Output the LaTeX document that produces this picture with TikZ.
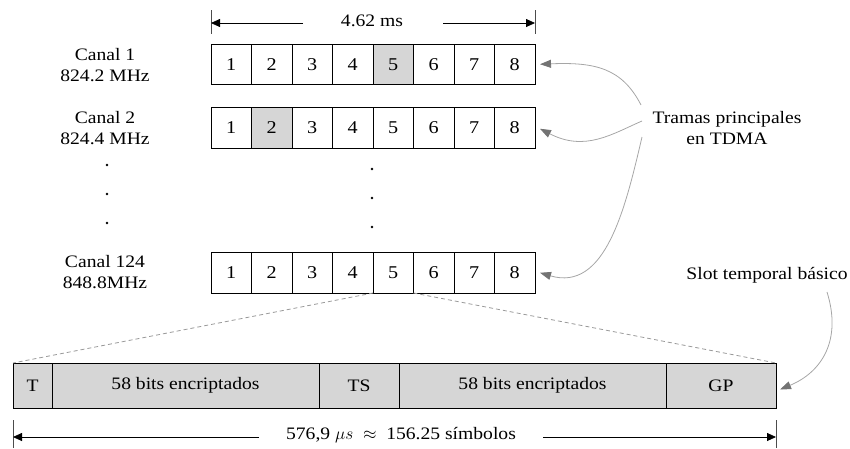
\documentclass[tikz,border=0pt]{standalone}
\usepackage{fontspec}
\setmainfont[FakeStretch=1.12]{Liberation Serif}
\usetikzlibrary{arrows.meta}
\begin{document}
\begin{tikzpicture}[x=1pt,y=-1pt,
  txt/.style={font=\fontsize{17.5}{20.5}\selectfont, align=center, inner sep=0pt},
  cell/.style={draw, line width=0.8pt, minimum width=40.5pt, minimum height=40.5pt, inner sep=0pt, outer sep=0pt, anchor=north west, font=\fontsize{18}{20}\selectfont},
  shaded/.style={fill=black!16},
  slot/.style={draw, line width=0.8pt, fill=black!16, minimum height=45pt, inner sep=0pt, outer sep=0pt, anchor=north west, font=\fontsize{17.5}{20}\selectfont},
  dot/.style={circle, fill=black, inner sep=0pt, minimum size=2.6pt},
  dim/.style={line width=0.8pt, -{Triangle[length=9pt,width=8pt]}},
  tick/.style={line width=0.8pt, black!70},
  callout/.style={draw=black!35, line width=0.8pt, -{Triangle[length=11pt,width=8pt,color=black!55]}},
  zoomline/.style={draw=black!40, line width=0.8pt, dashed, dash pattern=on 4pt off 3pt}
]
\useasboundingbox (0,0) rectangle (850,448);

% frames
\foreach \i in {1,...,8} {
  \node[cell] (a\i) at ({211+(\i-1)*40.5},44) {\i};
  \node[cell] (b\i) at ({211+(\i-1)*40.5},107.5) {\i};
  \node[cell] (c\i) at ({211+(\i-1)*40.5},252.5) {\i};
}
\node[cell,shaded] (a5) at ({211+4*40.5},44) {5};
\node[cell,shaded] (b2) at ({211+1*40.5},107.5) {2};

% channel labels
\node[txt] (l1) at (105,65) {Canal 1\\824.2 MHz};
\node[txt] (l2) at (105,128) {Canal 2\\824.4 MHz};
\node[txt] (l3) at (105,272) {Canal 124\\848.8MHz};
\node[dot] (d1) at (107,165) {};
\node[dot] (d2) at (107,194) {};
\node[dot] (d3) at (107,223) {};
\node[dot] (e1) at (372,169) {};
\node[dot] (e2) at (372,198) {};
\node[dot] (e3) at (372,227) {};

% top dimension
\draw[tick] (211,10) -- (211,34);
\draw[tick] (535,10) -- (535,34);
\coordinate (tl) at (211,23);
\coordinate (tr) at (535,23);
\node[txt] (tdim) at (372,21) {4.62 ms};
\coordinate (tls) at (303,23);
\coordinate (trs) at (443,23);
\draw[dim] (tls) -- (tl);
\draw[dim] (trs) -- (tr);

% basic slot
\node[slot, minimum width=39pt] (T) at (13,363) {T};
\node[slot, minimum width=267pt] (D1) at (52,363) {58 bits encriptados};
\node[slot, minimum width=80pt] (TS) at (319,363) {TS};
\node[slot, minimum width=267pt] (D2) at (399,363) {58 bits encriptados};
\node[slot, minimum width=110pt] (GP) at (666,363) {GP};

% zoom lines
\draw[zoomline] (c5.south west) -- (T.north west);
\draw[zoomline] (c6.south west) -- (GP.north east);

% bottom dimension
\draw[tick] (13,420) -- (13,448);
\draw[tick] (776,420) -- (776,448);
\coordinate (bl) at (13,437);
\coordinate (br) at (776,437);
\node[txt] (bdim) at (401,435) {576,9~$\mu s$~~$\approx$~~156.25 símbolos};
\coordinate (bls) at (259,437);
\coordinate (brs) at (543,437);
\draw[dim] (bls) -- (bl);
\draw[dim] (brs) -- (br);

% callouts
\node[txt] (tram) at (727,128) {Tramas principales\\en TDMA};
\node[txt] (slotl) at (767,275) {Slot temporal básico};
\coordinate (s1) at (641,105);
\coordinate (s2) at (642,121);
\coordinate (s3) at (642,137);
\draw[callout] (s1) .. controls (622,68) and (595,62) .. ([xshift=5pt]a8.east);
\draw[callout] (s2) .. controls (612,134) and (585,152) .. ([xshift=5pt,yshift=-1pt]b8.east);
\draw[callout] (s3) .. controls (625,210) and (605,292) .. ([xshift=5pt]c8.east);
\coordinate (s4) at (827,292);
\draw[callout] (s4) .. controls (842,340) and (822,372) .. ([xshift=4pt,yshift=-4pt]GP.east);
\end{tikzpicture}
\end{document}
